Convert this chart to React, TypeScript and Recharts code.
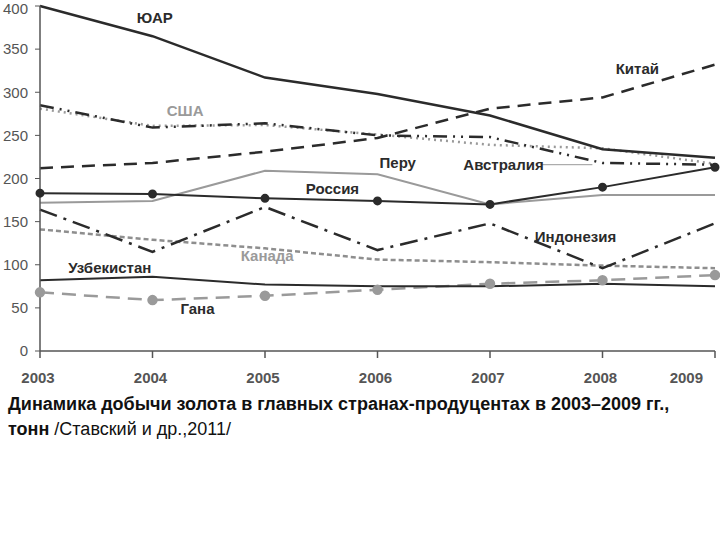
import React from "react";
import {
  LineChart,
  Line,
  XAxis,
  YAxis,
  ReferenceDot,
  ReferenceLine,
} from "recharts";

// years and gold output per country, tonnes
const years = [2003, 2004, 2005, 2006, 2007, 2008, 2009];
const yuar = [400, 365, 317, 298, 273, 234, 224];
const kitai = [212, 218, 231, 247, 281, 294, 332];
const ssha = [281, 261, 262, 251, 239, 235, 217];
const avstraliya = [285, 259, 264, 250, 248, 218, 216];
const peru = [172, 174, 209, 205, 170, 181, 181];
const rossiya = [183, 182, 177, 174, 170, 190, 213];
const indoneziya = [164, 115, 167, 117, 148, 96, 148];
const kanada = [141, 129, 119, 106, 103, 99, 96];
const uzbekistan = [82, 86, 77, 75, 75, 78, 75];
const gana = [68, 59, 64, 71, 78, 82, 88];
const yTicks = [0, 50, 100, 150, 200, 250, 300, 350, 400];

const data = years.map((year, i) => ({
  year,
  yuar: yuar[i],
  kitai: kitai[i],
  ssha: ssha[i],
  avstraliya: avstraliya[i],
  peru: peru[i],
  rossiya: rossiya[i],
  indoneziya: indoneziya[i],
  kanada: kanada[i],
  uzbekistan: uzbekistan[i],
  gana: gana[i],
}));

// series labels placed in data space
const labels = [
  { text: "ЮАР", x: 2004.02, y: 386, gray: false },
  { text: "Китай", x: 2008.31, y: 327, gray: false },
  { text: "США", x: 2004.29, y: 279, gray: true },
  { text: "Перу", x: 2006.18, y: 218, gray: false },
  { text: "Австралия", x: 2007.12, y: 216, gray: false },
  { text: "Россия", x: 2005.6, y: 188, gray: false },
  { text: "Индонезия", x: 2007.76, y: 133, gray: false },
  { text: "Канада", x: 2005.02, y: 110, gray: true },
  { text: "Узбекистан", x: 2003.62, y: 97, gray: false },
  { text: "Гана", x: 2004.4, y: 49, gray: false },
];

const DARK = "#2b2b2b";
const GRAY = "#9a9a9a";
const FONT = "'Liberation Sans', Arial, sans-serif";

const XTick = (props: any) => {
  const { x, y, payload } = props;
  const last = payload.value === 2009;
  return (
    <text
      x={last ? x - 1 : x - 2}
      y={y}
      dy="0.71em"
      textAnchor={last ? "end" : "middle"}
      fill="#555"
      fontSize={15}
      fontWeight="bold"
      fontFamily={FONT}
    >
      {payload.value}
    </text>
  );
};

export default function App() {
  return (
    <div style={{ position: "absolute", left: 0, top: 0, width: 720, height: 540, background: "#fff" }}>
      <LineChart
        width={720}
        height={392}
        data={data}
        margin={{ top: 6, right: 5, bottom: 1, left: 0 }}
      >
        <XAxis
          dataKey="year"
          type="number"
          domain={[2003, 2009]}
          ticks={years}
          tick={<XTick />}
          tickSize={7}
          tickMargin={14}
          height={40}
          stroke="#555"
          strokeWidth={1.5}
          tickLine={{ stroke: "#555" }}
        />
        <YAxis
          domain={[0, 400]}
          ticks={yTicks}
          width={40}
          tickSize={5}
          tickMargin={7}
          stroke="#555"
          strokeWidth={1.5}
          tickLine={{ stroke: "#555", strokeWidth: 1 }}
          tick={{ fill: "#555", fontSize: 15, fontFamily: FONT }}
        />
        <Line dataKey="peru" stroke={GRAY} strokeWidth={2} dot={false} isAnimationActive={false} />
        <Line dataKey="kanada" stroke="#8e8e8e" strokeWidth={2.5} strokeDasharray="5 3" dot={false} isAnimationActive={false} />
        <Line dataKey="ssha" stroke={GRAY} strokeWidth={2.5} strokeDasharray="2 4" dot={false} isAnimationActive={false} />
        <Line
          dataKey="gana"
          stroke={GRAY}
          strokeWidth={2.5}
          strokeDasharray="14 8"
          dot={{ r: 4, fill: GRAY, stroke: GRAY, strokeDasharray: "" }}
          isAnimationActive={false}
        />
        <Line dataKey="uzbekistan" stroke={DARK} strokeWidth={2} dot={false} isAnimationActive={false} />
        <Line dataKey="indoneziya" stroke={DARK} strokeWidth={2.5} strokeDasharray="18 7 3 7" dot={false} isAnimationActive={false} />
        <Line dataKey="avstraliya" stroke={DARK} strokeWidth={2.5} strokeDasharray="14 6 2 6 2 6" dot={false} isAnimationActive={false} />
        <Line dataKey="kitai" stroke={DARK} strokeWidth={2.5} strokeDasharray="13 8" dot={false} isAnimationActive={false} />
        <Line
          dataKey="rossiya"
          stroke={DARK}
          strokeWidth={2}
          dot={{ r: 3.5, fill: DARK, stroke: DARK }}
          isAnimationActive={false}
        />
        <Line dataKey="yuar" stroke={DARK} strokeWidth={2.5} dot={false} isAnimationActive={false} />
        <ReferenceLine
          segment={[{ x: 2007.45, y: 216 }, { x: 2007.91, y: 216 }]}
          stroke="#999"
          strokeWidth={1}
        />
        {labels.map((l) => (
          <ReferenceDot
            key={l.text}
            x={l.x}
            y={l.y}
            r={0}
            fill="none"
            stroke="none"
            label={{
              value: l.text,
              position: "center",
              fill: l.gray ? GRAY : DARK,
              fontSize: 15,
              fontWeight: "bold",
              fontFamily: FONT,
            }}
          />
        ))}
      </LineChart>
      <div
        style={{
          position: "absolute",
          left: 8,
          top: 392,
          fontFamily: FONT,
          fontSize: 18,
          lineHeight: "25px",
          color: "#111",
        }}
      >
        <b>Динамика добычи золота в главных странах-продуцентах в 2003–2009 гг.,</b>
        <br />
        <b>тонн</b> /Ставский и др.,2011/
      </div>
    </div>
  );
}
